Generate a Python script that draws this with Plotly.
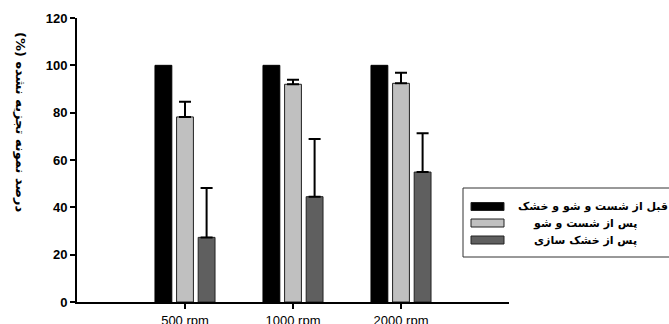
import plotly.graph_objects as go

categories = ["500 rpm", "1000 rpm", "2000 rpm"]
series_names = ["قبل از شست و شو و خشک", "پس از شست و شو", "پس از خشک سازی"]
before_vals = [100, 100, 100]
washed_vals = [78.2, 92.0, 92.4]
washed_err = [6.4, 1.9, 4.5]
dried_vals = [27.3, 44.5, 54.9]
dried_err = [20.9, 24.4, 16.4]
y_title = "درصد نمونه تجزیه نشده (%)"
y_ticks = [0, 20, 40, 60, 80, 100, 120]

colors = ["#000000", "#c0c0c0", "#5f5f5f"]
x_idx = list(range(len(categories)))

fig = go.Figure()
fig.add_trace(go.Bar(x=x_idx, y=before_vals, name=series_names[0],
                     marker=dict(color=colors[0], line=dict(color="#000000", width=1))))
fig.add_trace(go.Bar(x=x_idx, y=washed_vals, name=series_names[1],
                     marker=dict(color=colors[1], line=dict(color="#222222", width=1)),
                     error_y=dict(type="data", symmetric=False, array=washed_err,
                                  arrayminus=[0] * 3, color="#000000", thickness=2, width=6)))
fig.add_trace(go.Bar(x=x_idx, y=dried_vals, name=series_names[2],
                     marker=dict(color=colors[2], line=dict(color="#222222", width=1)),
                     error_y=dict(type="data", symmetric=False, array=dried_err,
                                  arrayminus=[0] * 3, color="#000000", thickness=2, width=6)))

L, R, T, B = 77, 160, 18, 22
W, H = 669, 324
pw, ph = W - L - R, H - T - B

def px(x):
    return (x - L) / pw

def py(y):
    return (H - B - y) / ph

def rtl(s):
    return "\u202b" + s + "\u202c"

shapes = []
annotations = []
# legend box
shapes.append(dict(type="rect", xref="paper", yref="paper",
                   x0=px(463), x1=px(700), y0=py(257), y1=py(188),
                   line=dict(color="#333333", width=1), fillcolor="white", layer="above"))
row_y = [206.5, 223, 240]
text_x = [516, 531, 532]
for i in range(3):
    shapes.append(dict(type="rect", xref="paper", yref="paper",
                       x0=px(471), x1=px(504), y0=py(row_y[i] + 4), y1=py(row_y[i] - 4),
                       line=dict(color="#222222", width=1), fillcolor=colors[i], layer="above"))
    annotations.append(dict(text="<b>" + rtl(series_names[i]) + "</b>", xref="paper", yref="paper",
                            x=px(text_x[i]), y=py(row_y[i]), xanchor="left", yanchor="middle",
                            showarrow=False,
                            font=dict(family="DejaVu Sans", size=11, color="#000000")))
annotations.append(dict(text="<b>" + rtl(y_title) + "</b>", xref="paper", yref="paper",
                        x=px(20), y=py(122), textangle=90, showarrow=False,
                        xanchor="center", yanchor="middle",
                        font=dict(family="DejaVu Sans", size=13, color="#000000")))

fig.update_layout(
    width=W, height=H,
    margin=dict(l=L, r=R, t=T, b=B, autoexpand=False),
    paper_bgcolor="white", plot_bgcolor="white",
    barmode="group", bargap=0.4, bargroupgap=0.22,
    showlegend=False,
    shapes=shapes, annotations=annotations,
    xaxis=dict(range=[-1, 3], tickmode="array", tickvals=x_idx, ticktext=categories,
               showline=True, linecolor="#000000", linewidth=2, ticks="outside",
               ticklen=5, tickwidth=2, tickcolor="#000000", showgrid=False, zeroline=False,
               tickfont=dict(family="Liberation Sans", size=13, color="#000000")),
    yaxis=dict(range=[0, 120], tickvals=y_ticks, showline=True, linecolor="#000000",
               linewidth=2, ticks="outside", ticklen=5, tickwidth=2, tickcolor="#000000",
               showgrid=False, zeroline=False,
               tickfont=dict(family="Liberation Sans", size=13, color="#000000", weight="bold")),
)

fig.write_html("out.html")
